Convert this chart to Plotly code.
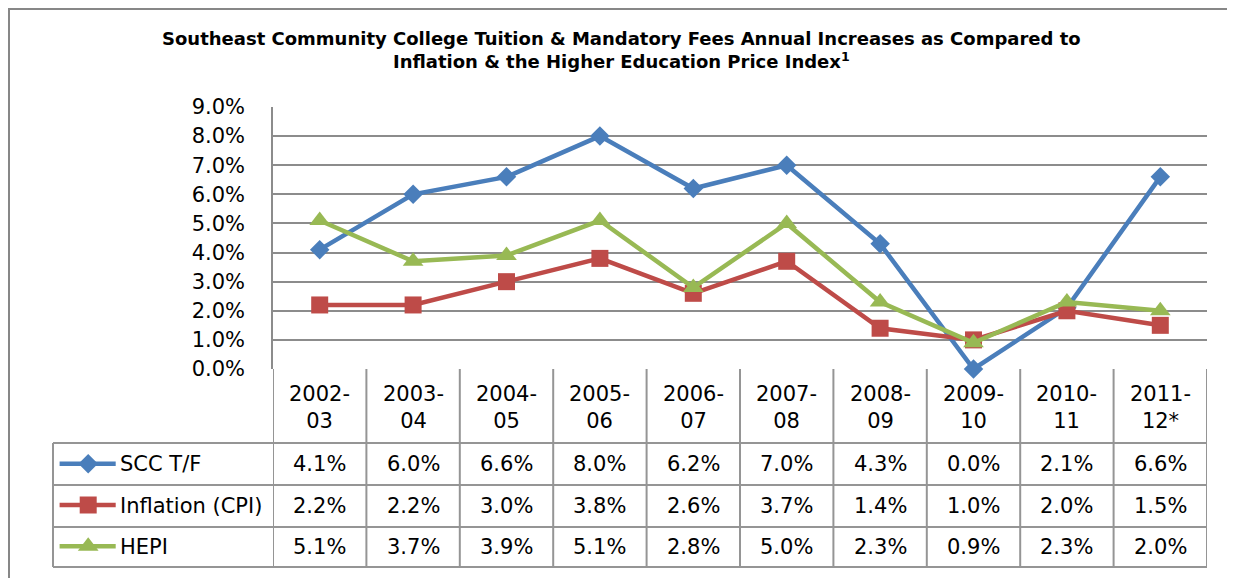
import plotly.graph_objects as go

# ---------------- data ----------------
categories = ["2002-03", "2003-04", "2004-05", "2005-06", "2006-07",
              "2007-08", "2008-09", "2009-10", "2010-11", "2011-12*"]
series_names = ["SCC T/F", "Inflation (CPI)", "HEPI"]
scc_tf = [4.1, 6.0, 6.6, 8.0, 6.2, 7.0, 4.3, 0.0, 2.1, 6.6]
inflation_cpi = [2.2, 2.2, 3.0, 3.8, 2.6, 3.7, 1.4, 1.0, 2.0, 1.5]
hepi = [5.1, 3.7, 3.9, 5.1, 2.8, 5.0, 2.3, 0.9, 2.3, 2.0]
y_ticks = [0, 1, 2, 3, 4, 5, 6, 7, 8, 9]
y_tick_labels = [f"{t:.1f}%" for t in y_ticks]
title_lines = ["Southeast Community College Tuition & Mandatory Fees Annual Increases as Compared to",
               "Inflation & the Higher Education Price Index<sup>1</sup>"]

series_values = [scc_tf, inflation_cpi, hepi]

# ---------------- style ----------------
OFF = 8                      # page body margin
W, H = 1235 - OFF, 578 - OFF
colors = ["#4A7EBB", "#BE4B48", "#98B954"]
symbols = ["diamond", "square", "triangle-up"]
msizes = [15, 17, 18]
GRID = "#8c8c8c"
TABLE = "#959595"
FONT = "DejaVu Sans"


def px(x):
    return (x - OFF) / W


def py(y):
    return 1 - (y - OFF) / H


plot_left, plot_right, plot_top, plot_bottom = 273, 1207, 107, 369
legend_left = 53
row_edges = [369, 443, 485, 527, 567]

fig = go.Figure()

for name, vals, c, s, ms in zip(series_names, series_values, colors, symbols, msizes):
    fig.add_trace(go.Scatter(
        x=categories, y=vals, name=name, mode="lines+markers",
        line=dict(color=c, width=4.5),
        marker=dict(symbol=s, size=ms, color=c, line=dict(width=0)),
        showlegend=False, cliponaxis=False,
    ))

# legend keys inside the table's first column
for i, (name, c, s, ms) in enumerate(zip(series_names, colors, symbols, msizes)):
    fig.add_trace(go.Scatter(
        x=[0.03, 0.285], y=[i + 0.5] * 2, mode="lines",
        line=dict(color=c, width=4.5),
        xaxis="x2", yaxis="y2", showlegend=False, hoverinfo="skip",
    ))
    fig.add_trace(go.Scatter(
        x=[0.16], y=[i + 0.5], mode="markers",
        marker=dict(symbol=s, size=ms, color=c, line=dict(width=0)),
        xaxis="x2", yaxis="y2", showlegend=False, hoverinfo="skip",
    ))

fig.update_layout(
    width=W, height=H,
    margin=dict(l=0, r=0, t=0, b=0, pad=0),
    paper_bgcolor="white", plot_bgcolor="white",
    xaxis=dict(domain=[px(plot_left), px(plot_right)], range=[-0.5, len(categories) - 0.5],
               type="category", showticklabels=False, showgrid=False, zeroline=False,
               showline=False, ticks="", fixedrange=True, automargin=False),
    yaxis=dict(domain=[py(plot_bottom), py(plot_top)], range=[0, 9], tickvals=y_ticks,
               ticktext=y_tick_labels, showgrid=True, gridcolor=GRID, gridwidth=1.5,
               zeroline=False, showline=True, linecolor=GRID, linewidth=1.5, ticks="",
               ticklabelstandoff=22, tickfont=dict(family=FONT, size=21, color="black"),
               fixedrange=True, automargin=False),
    xaxis2=dict(domain=[px(legend_left), px(plot_left)], range=[0, 1], visible=False,
                anchor="y2", fixedrange=True, automargin=False),
    yaxis2=dict(domain=[py(row_edges[-1]), py(row_edges[1])], range=[3, 0], visible=False,
                anchor="x2", fixedrange=True, automargin=False),
)

shapes = []
# outer chart border
shapes.append(dict(type="rect", xref="paper", yref="paper", x0=px(9), x1=px(1232),
                   y0=-0.2, y1=py(9), line=dict(color="#878787", width=2)))
# table horizontal lines
for y in row_edges[1:]:
    shapes.append(dict(type="line", xref="paper", yref="paper", x0=px(legend_left), x1=px(plot_right),
                       y0=py(y), y1=py(y), line=dict(color=TABLE, width=2)))
# table vertical lines at category boundaries
for k in range(len(categories) + 1):
    shapes.append(dict(type="line", xref="x", yref="paper", x0=k - 0.5, x1=k - 0.5,
                       y0=py(row_edges[0]), y1=py(row_edges[-1]), line=dict(color=TABLE, width=2)))
# legend column left border
shapes.append(dict(type="line", xref="paper", yref="paper", x0=px(legend_left), x1=px(legend_left),
                   y0=py(row_edges[1]), y1=py(row_edges[-1]), line=dict(color=TABLE, width=2)))

annotations = []
# title
annotations.append(dict(text="<br>".join(title_lines), xref="paper", yref="paper",
                        x=px(621), y=py(50), xanchor="center", yanchor="middle", showarrow=False,
                        font=dict(family=FONT, size=18, color="black", weight="bold")))
# category header cells
for cat in categories:
    top, bottom = cat.split("-")
    annotations.append(dict(text=top + "-<br>" + bottom, xref="x", yref="paper", x=cat,
                            y=py((row_edges[0] + row_edges[1]) / 2 + 1), xanchor="center",
                            yanchor="middle", showarrow=False,
                            font=dict(family=FONT, size=21, color="black")))
# value cells and legend labels
for r, (name, vals) in enumerate(zip(series_names, series_values)):
    yc = py((row_edges[r + 1] + row_edges[r + 2]) / 2)
    annotations.append(dict(text=name, xref="paper", yref="paper", x=px(118), y=yc,
                            xanchor="left", yanchor="middle", showarrow=False,
                            font=dict(family=FONT, size=21, color="black")))
    for cat, v in zip(categories, vals):
        annotations.append(dict(text=f"{v:.1f}%", xref="x", yref="paper", x=cat, y=yc,
                                xanchor="center", yanchor="middle", showarrow=False,
                                font=dict(family=FONT, size=21, color="black")))

fig.update_layout(shapes=shapes, annotations=annotations)
fig.write_html("out.html")
